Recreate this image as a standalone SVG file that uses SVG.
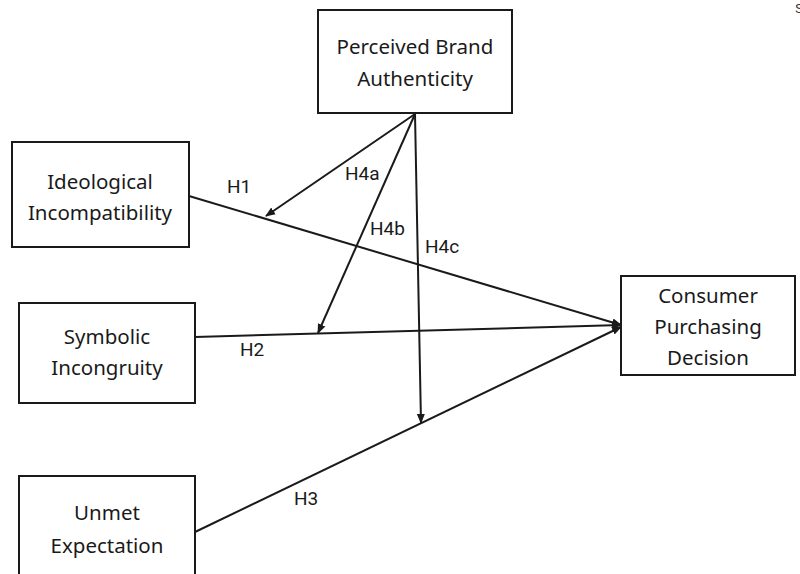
<svg xmlns="http://www.w3.org/2000/svg" width="800" height="574" viewBox="0 0 800 574">
<style>
.box{fill:#fff;stroke:#1a1a1a;stroke-width:2}
.bt{font-family:"Noto Sans","Open Sans",sans-serif;font-size:20.5px;fill:#1a1a1a;text-anchor:middle}
.lb{font-family:Roboto,"Liberation Sans",sans-serif;font-size:19px;fill:#1a1a1a}
.ln{stroke:#1a1a1a;stroke-width:2;fill:none}
</style>
<defs>
<marker id="ah" viewBox="0 0 10 10" refX="9" refY="5" markerWidth="5" markerHeight="5" orient="auto" markerUnits="strokeWidth">
<path d="M0,1 L10,5 L0,9 z" fill="#1a1a1a"/>
</marker>
</defs>
<rect width="800" height="574" fill="#fff"/>
<text x="795" y="13" font-family="Liberation Sans, sans-serif" font-size="13" fill="#333">S</text>
<g id="connectors">
<line class="ln" x1="189" y1="196" x2="621" y2="325" marker-end="url(#ah)"/>
<line class="ln" x1="195" y1="337" x2="621" y2="325" marker-end="url(#ah)"/>
<line class="ln" x1="195" y1="532" x2="621" y2="327" marker-end="url(#ah)"/>
<line class="ln" x1="415" y1="114" x2="266" y2="216" marker-end="url(#ah)"/>
<line class="ln" x1="415" y1="114" x2="318" y2="333" marker-end="url(#ah)"/>
<line class="ln" x1="415" y1="114" x2="421" y2="423" marker-end="url(#ah)"/>
<text class="lb" x="227" y="193">H1</text>
<text class="lb" x="345" y="180">H4a</text>
<text class="lb" x="370" y="235">H4b</text>
<text class="lb" x="425" y="253">H4c</text>
<text class="lb" x="240" y="356">H2</text>
<text class="lb" x="294" y="505">H3</text>
</g>
<g id="pba">
<rect class="box" x="318" y="10" width="194" height="103"/>
<text class="bt" x="415" y="54">Perceived Brand</text>
<text class="bt" x="415" y="86">Authenticity</text>
</g>
<g id="ideological">
<rect class="box" x="12" y="142" width="177" height="105"/>
<text class="bt" x="100" y="189">Ideological</text>
<text class="bt" x="100" y="220">Incompatibility</text>
</g>
<g id="symbolic">
<rect class="box" x="19" y="303" width="176" height="100"/>
<text class="bt" x="107" y="344">Symbolic</text>
<text class="bt" x="107" y="375">Incongruity</text>
</g>
<g id="unmet">
<rect class="box" x="19" y="476" width="176" height="110"/>
<text class="bt" x="107" y="520">Unmet</text>
<text class="bt" x="107" y="553">Expectation</text>
</g>
<g id="consumer">
<rect class="box" x="621" y="276" width="174" height="99"/>
<text class="bt" x="708" y="303">Consumer</text>
<text class="bt" x="708" y="334">Purchasing</text>
<text class="bt" x="708" y="365">Decision</text>
</g>
</svg>
